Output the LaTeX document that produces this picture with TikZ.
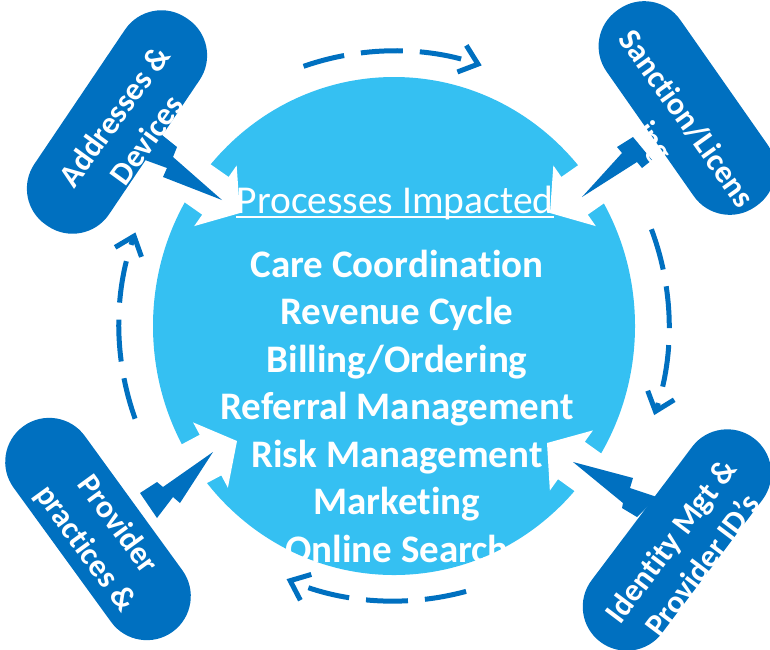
\documentclass[tikz,border=0pt]{standalone}
\usepackage{fontspec}
\setmainfont{Carlito}[Ligatures=NoCommon]
\usetikzlibrary{arrows.meta,calc,shapes.geometric}
\definecolor{hubblue}{HTML}{35C0F2}
\definecolor{darkblue}{HTML}{0070C0}
\newcommand\wharrow[3]{%
  \coordinate (#1) at #2;
  \fill[white] (#1) -- ($(#1)+(#3+180:30)+(#3+90:37)$) -- ($(#1)+(#3+180:30)+(#3+90:23)$)
    -- ($(#1)+(#3+180:85)+(#3+90:23)$) -- ($(#1)+(#3+180:85)+(#3-90:23)$)
    -- ($(#1)+(#3+180:30)+(#3-90:23)$) -- ($(#1)+(#3+180:30)+(#3-90:37)$) -- cycle;}
\begin{document}
\begin{tikzpicture}[x=1pt,y=-1pt,
  pill/.style={fill=darkblue, rounded corners=44pt, minimum height=90pt, inner sep=0pt, draw=none},
  pilltext/.style={text=white, font=\bfseries\fontsize{32}{40}\selectfont, align=center, inner sep=0pt},
  listline/.style={text=white, font=\bfseries\fontsize{39}{47}\selectfont, anchor=base, inner sep=0pt},
  cycarrow/.style={darkblue, line width=5pt, dash pattern=on 42pt off 17pt, -{Straight Barb[length=17pt,width=28pt]}},
  callout/.style={fill=darkblue}
]
\useasboundingbox (0,0) rectangle (770,649);
% hub
\node[ellipse, fill=hubblue, minimum width=482pt, minimum height=498pt, inner sep=0pt] (hub) at (394,326) {};
% white block arrows
\wharrow{wtl}{(240,213)}{35}
\wharrow{wtr}{(550,213)}{145}
\wharrow{wbl}{(237,441)}{-28}
\wharrow{wbr}{(547,443)}{215.6}
% dashed cycle arcs
\draw[cycarrow] ($(hub.center)+(-109.2:275)$) arc[start angle=-109.2, end angle=-71.4, radius=275];
\draw[cycarrow] ($(hub.center)+(-20.6:275)$) arc[start angle=-20.6, end angle=18.9, radius=275];
\draw[cycarrow] ($(hub.center)+(74.8:275)$) arc[start angle=74.8, end angle=113, radius=275];
\draw[cycarrow] ($(hub.center)+(160.3:275)$) arc[start angle=160.3, end angle=199.9, radius=275];
% pills
\node[pill, minimum width=250pt, rotate=56] (ptl) at (117,122) {};
\node[pill, minimum width=240pt, rotate=-55] (ptr) at (687,108) {};
\node[pill, minimum width=254pt, minimum height=88pt, rotate=-54] (pbl) at (98,529) {};
\node[pill, minimum width=255pt, minimum height=88pt, rotate=53] (pbr) at (677,540) {};
% callouts
\fill[callout] (162,135) -- (177,147) -- (173,157) -- (222,200) -- (163,177) -- (167,168) -- (145,160) -- cycle;
\fill[callout] (633,137) -- (617,147) -- (622,153) -- (582,197) -- (637,162) -- (642,168) -- (652,160) -- cycle;
\fill[callout] (140,493) -- (157,482) -- (163,487) -- (213,452) -- (180,503) -- (173,497) -- (157,518) -- cycle;
\fill[callout] (573,462) -- (633,478) -- (630,488) -- (657,497) -- (637,517) -- (622,508) -- (623,503) -- cycle;
% hub texts
\node[text=white, font=\fontsize{39.5}{47}\selectfont, anchor=base, inner sep=0pt] (pi) at (395,213) {Processes Impacted};
\draw[white, line width=1.6pt] ([yshift=-3.7pt]pi.base west) -- ([yshift=-3.7pt]pi.base east);
\foreach \t [count=\i from 0] in {Care Coordination, Revenue Cycle, Billing/Ordering, Referral Management, Risk Management, Marketing, Online Search}
  \node[listline] (line\i) at (397,{277+47.5*\i}) {\t};
% pill texts
\node[pilltext, rotate=54] (tlt) at (130,128) {Addresses \&\\Devices};
\node[pilltext, rotate=-54.5] (trt) at (669,131) {Sanction/Licens\\ing};
\node[pilltext, rotate=-54] (blt) at (101,537) {Provider\\practices \&};
\node[pilltext, rotate=53] (brt) at (686,553) {Identity Mgt \&\\Provider ID’s};
\end{tikzpicture}
\end{document}
